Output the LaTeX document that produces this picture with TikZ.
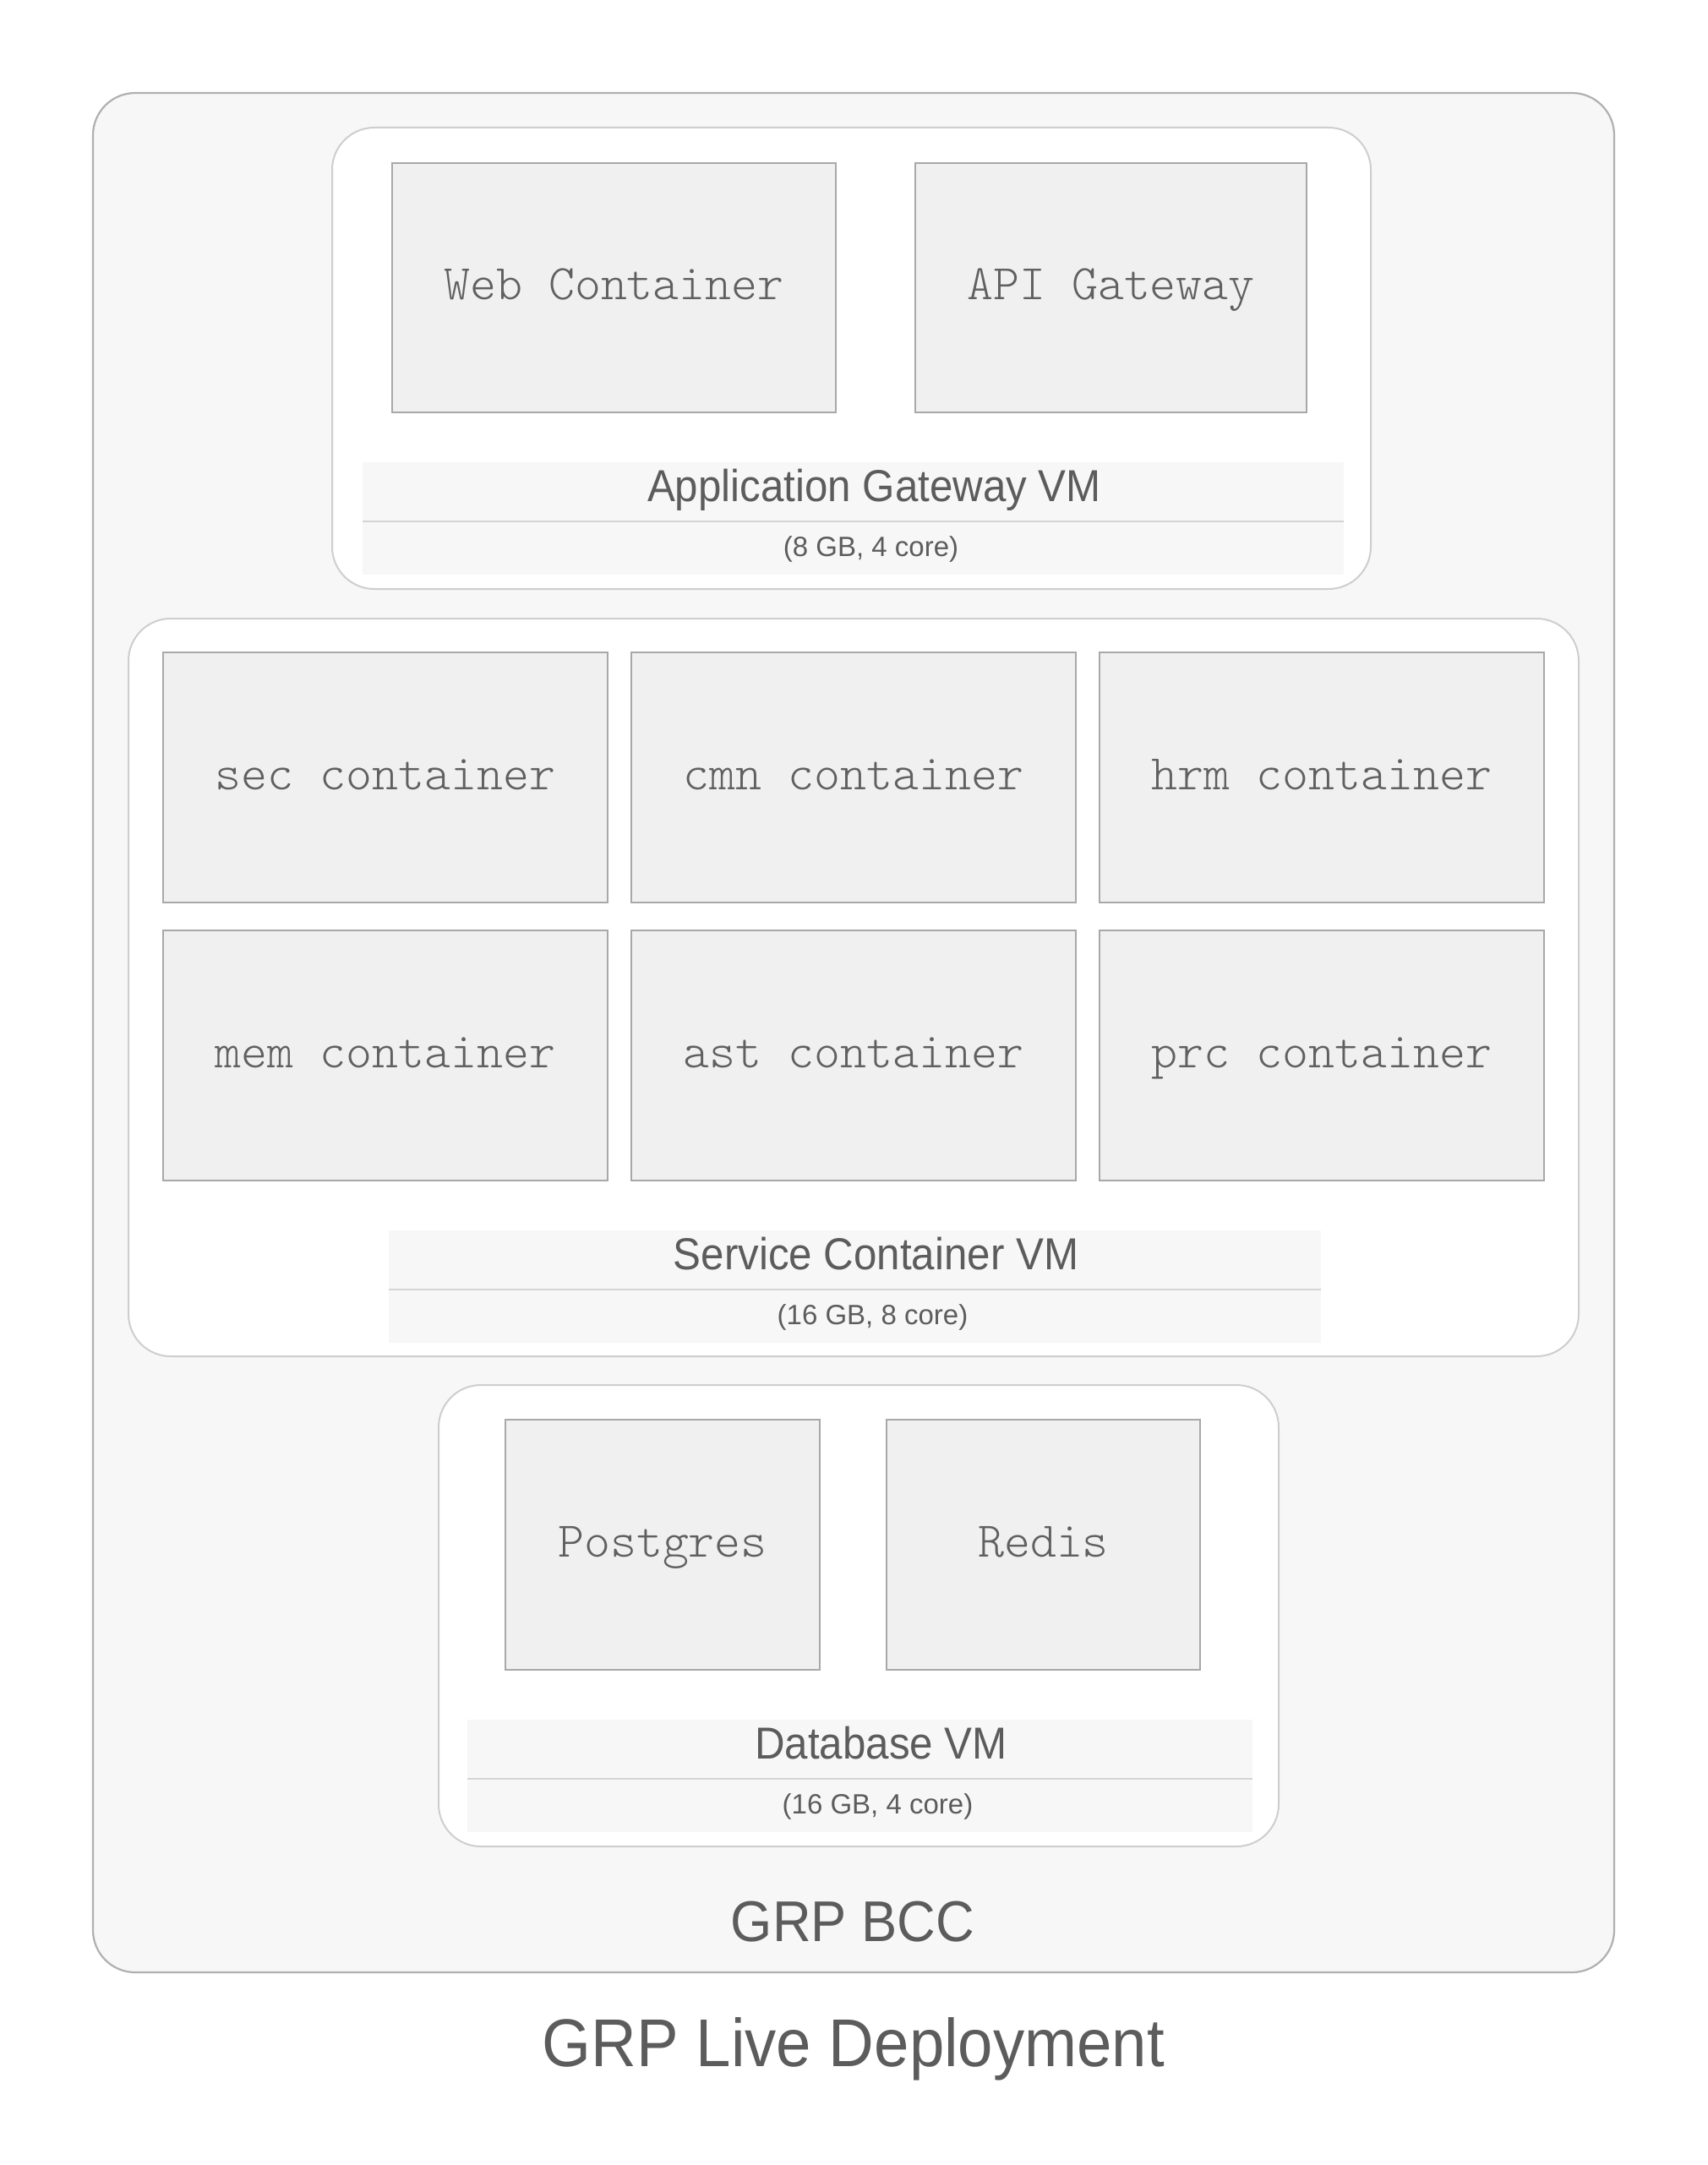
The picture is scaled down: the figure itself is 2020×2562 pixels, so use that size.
\documentclass[tikz,border=0pt]{standalone}
\usepackage{fontspec}
\newfontfamily\titlefont[FakeStretch=0.93]{Liberation Sans}
\newfontfamily\specfont{Liberation Sans}
\newfontfamily\boxfont{Latin Modern Mono Light}
\usetikzlibrary{positioning}
\definecolor{grpFrame}{RGB}{176,176,176}
\definecolor{grpPanel}{RGB}{247,247,247}
\definecolor{grpVmLine}{RGB}{206,206,206}
\definecolor{grpBox}{RGB}{240,240,240}
\definecolor{grpBoxLine}{RGB}{168,168,168}
\definecolor{grpRule}{RGB}{212,212,212}
\definecolor{grpText}{RGB}{92,92,92}
\definecolor{grpMono}{RGB}{96,96,96}

\begin{document}
\begin{tikzpicture}[x=0.5pt, y=-0.5pt,
    every node/.style={inner sep=0pt, outer sep=0pt},
    zone/.style={draw=grpFrame, line width=1.1pt, fill=grpPanel, rounded corners=25pt},
    vmbox/.style={draw=grpVmLine, line width=1pt, fill=white, rounded corners=25pt},
    cbox/.style={draw=grpBoxLine, line width=1pt, fill=grpBox, text=grpMono,
        font=\boxfont\fontsize{29.5pt}{34pt}\selectfont, text height=14pt, text depth=0pt},
    band/.style={fill=grpPanel},
    rule/.style={draw=grpRule, line width=1pt},
    vmtitle/.style={anchor=base, text=grpText, font=\titlefont\fontsize{26.5pt}{30pt}\selectfont},
    vmspec/.style={anchor=base, text=grpText, font=\specfont\fontsize{16.5pt}{20pt}\selectfont}]
    \useasboundingbox (0,0) rectangle (2020,2562);
    \node[zone, minimum width=900pt, minimum height=1112pt] (bcc) at (1010,1222) {};

    \node[vmbox, minimum width=614.5pt, minimum height=273pt] (agwVm) at (1007.5,424) {};
    \node[cbox, minimum width=262.5pt, minimum height=147.5pt] (web) at (726.5,340.5) {Web Container};
    \node[cbox, minimum width=231.5pt, minimum height=147.5pt] (api) at (1314.5,340.5) {API Gateway};
    \node[band, minimum width=580.5pt, minimum height=66.5pt] (agwBand) at (1009.5,613.5) {};
    \draw[rule] ([yshift=-35pt]agwBand.north west) -- ([yshift=-35pt]agwBand.north east);
    \node[vmtitle] (agwTitle) at ([xshift=12.5pt, yshift=-23pt]agwBand.north) {Application Gateway VM};
    \node[vmspec] (agwSpec) at ([xshift=10.5pt, yshift=-55.5pt]agwBand.north) {(8 GB, 4 core)};

    \node[vmbox, minimum width=858pt, minimum height=436.5pt] (svcVm) at (1010,1168.5) {};
    \foreach \name/\col/\row in {sec/0/0, cmn/1/0, hrm/2/0, mem/0/1, ast/1/1, prc/2/1}
        \node[cbox, minimum width=263pt, minimum height=148pt] (\name) at (456+554*\col, 920+329*\row) {\name{} container};
    \node[band, minimum width=551.5pt, minimum height=66.5pt] (svcBand) at (1011.5,1522.5) {};
    \draw[rule] ([yshift=-35pt]svcBand.north west) -- ([yshift=-35pt]svcBand.north east);
    \node[vmtitle] (svcTitle) at ([xshift=12.5pt, yshift=-23pt]svcBand.north) {Service Container VM};
    \node[vmspec] (svcSpec) at ([xshift=10.5pt, yshift=-55.5pt]svcBand.north) {(16 GB, 8 core)};

    \node[vmbox, minimum width=497pt, minimum height=273pt] (dbVm) at (1016,1912) {};
    \node[cbox, minimum width=186pt, minimum height=148pt] (postgres) at (784,1828) {Postgres};
    \node[cbox, minimum width=185.5pt, minimum height=148pt] (redis) at (1234.5,1828) {Redis};
    \node[band, minimum width=464.5pt, minimum height=66.5pt] (dbBand) at (1017.5,2101.5) {};
    \draw[rule] ([yshift=-35pt]dbBand.north west) -- ([yshift=-35pt]dbBand.north east);
    \node[vmtitle] (dbTitle) at ([xshift=12.5pt, yshift=-23pt]dbBand.north) {Database VM};
    \node[vmspec] (dbSpec) at ([xshift=10.5pt, yshift=-55.5pt]dbBand.north) {(16 GB, 4 core)};

    \node[anchor=base, text=grpText, font=\titlefont\fontsize{34pt}{40pt}\selectfont] (bccTitle) at (1009,2297) {GRP BCC};
    \node[anchor=base, text=grpText, font=\titlefont\fontsize{40pt}{46pt}\selectfont] (deployTitle) at (1010,2445) {GRP Live Deployment};
\end{tikzpicture}
\end{document}
